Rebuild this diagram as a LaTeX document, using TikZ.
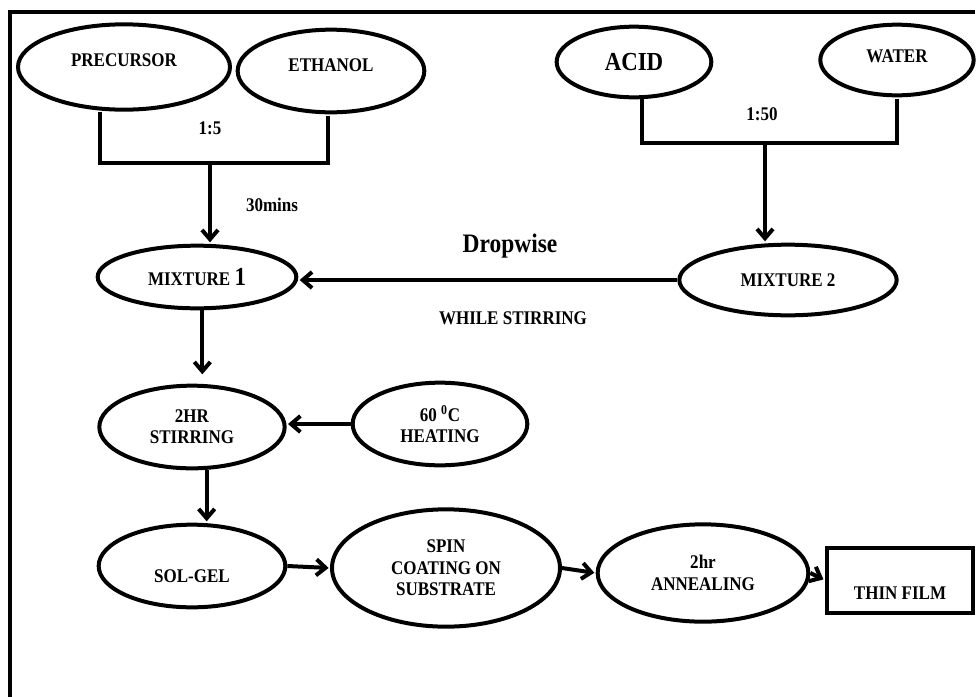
\documentclass[tikz,border=0pt]{standalone}
\usepackage{fontspec}
\setmainfont{Liberation Serif}[FakeStretch=0.88]
\usetikzlibrary{arrows.meta,shapes.geometric}

\begin{document}
\begin{tikzpicture}[x=0.75pt,y=-0.75pt,>={Straight Barb[length=7pt,width=12pt]},shorten >=1pt,line width=3pt,
  font=\bfseries\fontsize{14.5}{16}\selectfont]
\tikzstyle{oval} = [ellipse,draw=black,line width=3pt,inner sep=0pt,align=center]
\tikzstyle{result} = [rectangle,draw=black,line width=3pt,inner sep=3pt,text height=36pt,text depth=6.75pt,minimum width=110pt]
\tikzstyle{bigger} = [font=\bfseries\fontsize{20}{22}\selectfont]
    \useasboundingbox (0,0) rectangle (976,697);
    \draw (10,697) -- (10,12) -- (976,12);

    \node[oval,minimum width=159pt,minimum height=64pt,text depth=10pt] (prec) at (124,67) {PRECURSOR};
    \node[oval,minimum width=140pt,minimum height=62pt,text depth=9pt] (eth) at (331,71) {ETHANOL};
    \node[oval,minimum width=116pt,minimum height=53pt] (acid) at (634,62) {\fontsize{19.5}{22}\selectfont ACID};
    \node[oval,minimum width=115pt,minimum height=53pt,text depth=6pt] (water) at (897,60) {WATER};
    \node[oval,minimum width=149pt,minimum height=47pt] (mix1) at (197,277) {MIXTURE {\fontsize{19.5}{22}\selectfont 1}};
    \node[oval,minimum width=163pt,minimum height=53pt] (mix2) at (788,280) {MIXTURE 2};
    \node[oval,minimum width=139pt,minimum height=62pt] (stir) at (192,427) {2HR\\STIRRING};
    \node[oval,minimum width=131pt,minimum height=62pt] (heat) at (440,424) {60 \textsuperscript{0}C\\HEATING};
    \node[oval,minimum width=140pt,minimum height=62pt,text height=25pt] (solgel) at (192,566) {SOL-GEL};
    \node[oval,minimum width=171pt,minimum height=88pt] (spin) at (446,568) {SPIN\\COATING ON\\SUBSTRATE};
    \node[oval,minimum width=158pt,minimum height=73pt] (anneal) at (703,573) {2hr\\ANNEALING};
    \node[result] (film) at (900,580) {THIN FILM};

    \node (ratio1) at (210,128) {1:5};
    \node (time1) at (272,205) {30mins};
    \node (ratio2) at (762,114) {1:50};
    \node[bigger] (drop) at (510,246) {Dropwise};
    \node (while) at (513,318) {WHILE STIRRING};

    \coordinate (bl1) at (100,163);
    \coordinate (bc1) at (210,163);
    \coordinate (br1) at (328,163);
    \coordinate (bl2) at (642,143);
    \coordinate (bc2) at (765,143);
    \coordinate (br2) at (897,143);

    \tikzset{flow/.style={->}}
    \draw (prec.south -| bl1) -- (bl1) -- (br1) -- (eth.south -| br1);
    \draw (acid.south -| bl2) -- (bl2) -- (br2) -- (water.south -| br2);
    \draw (bc1) edge [flow] (bc1 |- mix1.north);
    \draw (bc2) edge [flow] (bc2 |- mix2.north);
    \draw (mix2.west) edge [flow] (mix2.west -| mix1.east);
    \draw ([xshift=4pt]mix1.south) edge [flow, shorten >=7pt] ([xshift=4pt]mix1.south |- stir.north);
    \draw (heat.west) edge [flow] (heat.west -| stir.east);
    \draw ([xshift=11pt]stir.south) edge [flow, shorten >=1pt] ([xshift=11pt]stir.south |- solgel.north);
    \draw (solgel.east) edge [flow] (spin.west);
    \draw (spin.east) edge [flow] (anneal.west);
    \draw (anneal.east) edge [flow] (film.west);

\end{tikzpicture}
\end{document}
